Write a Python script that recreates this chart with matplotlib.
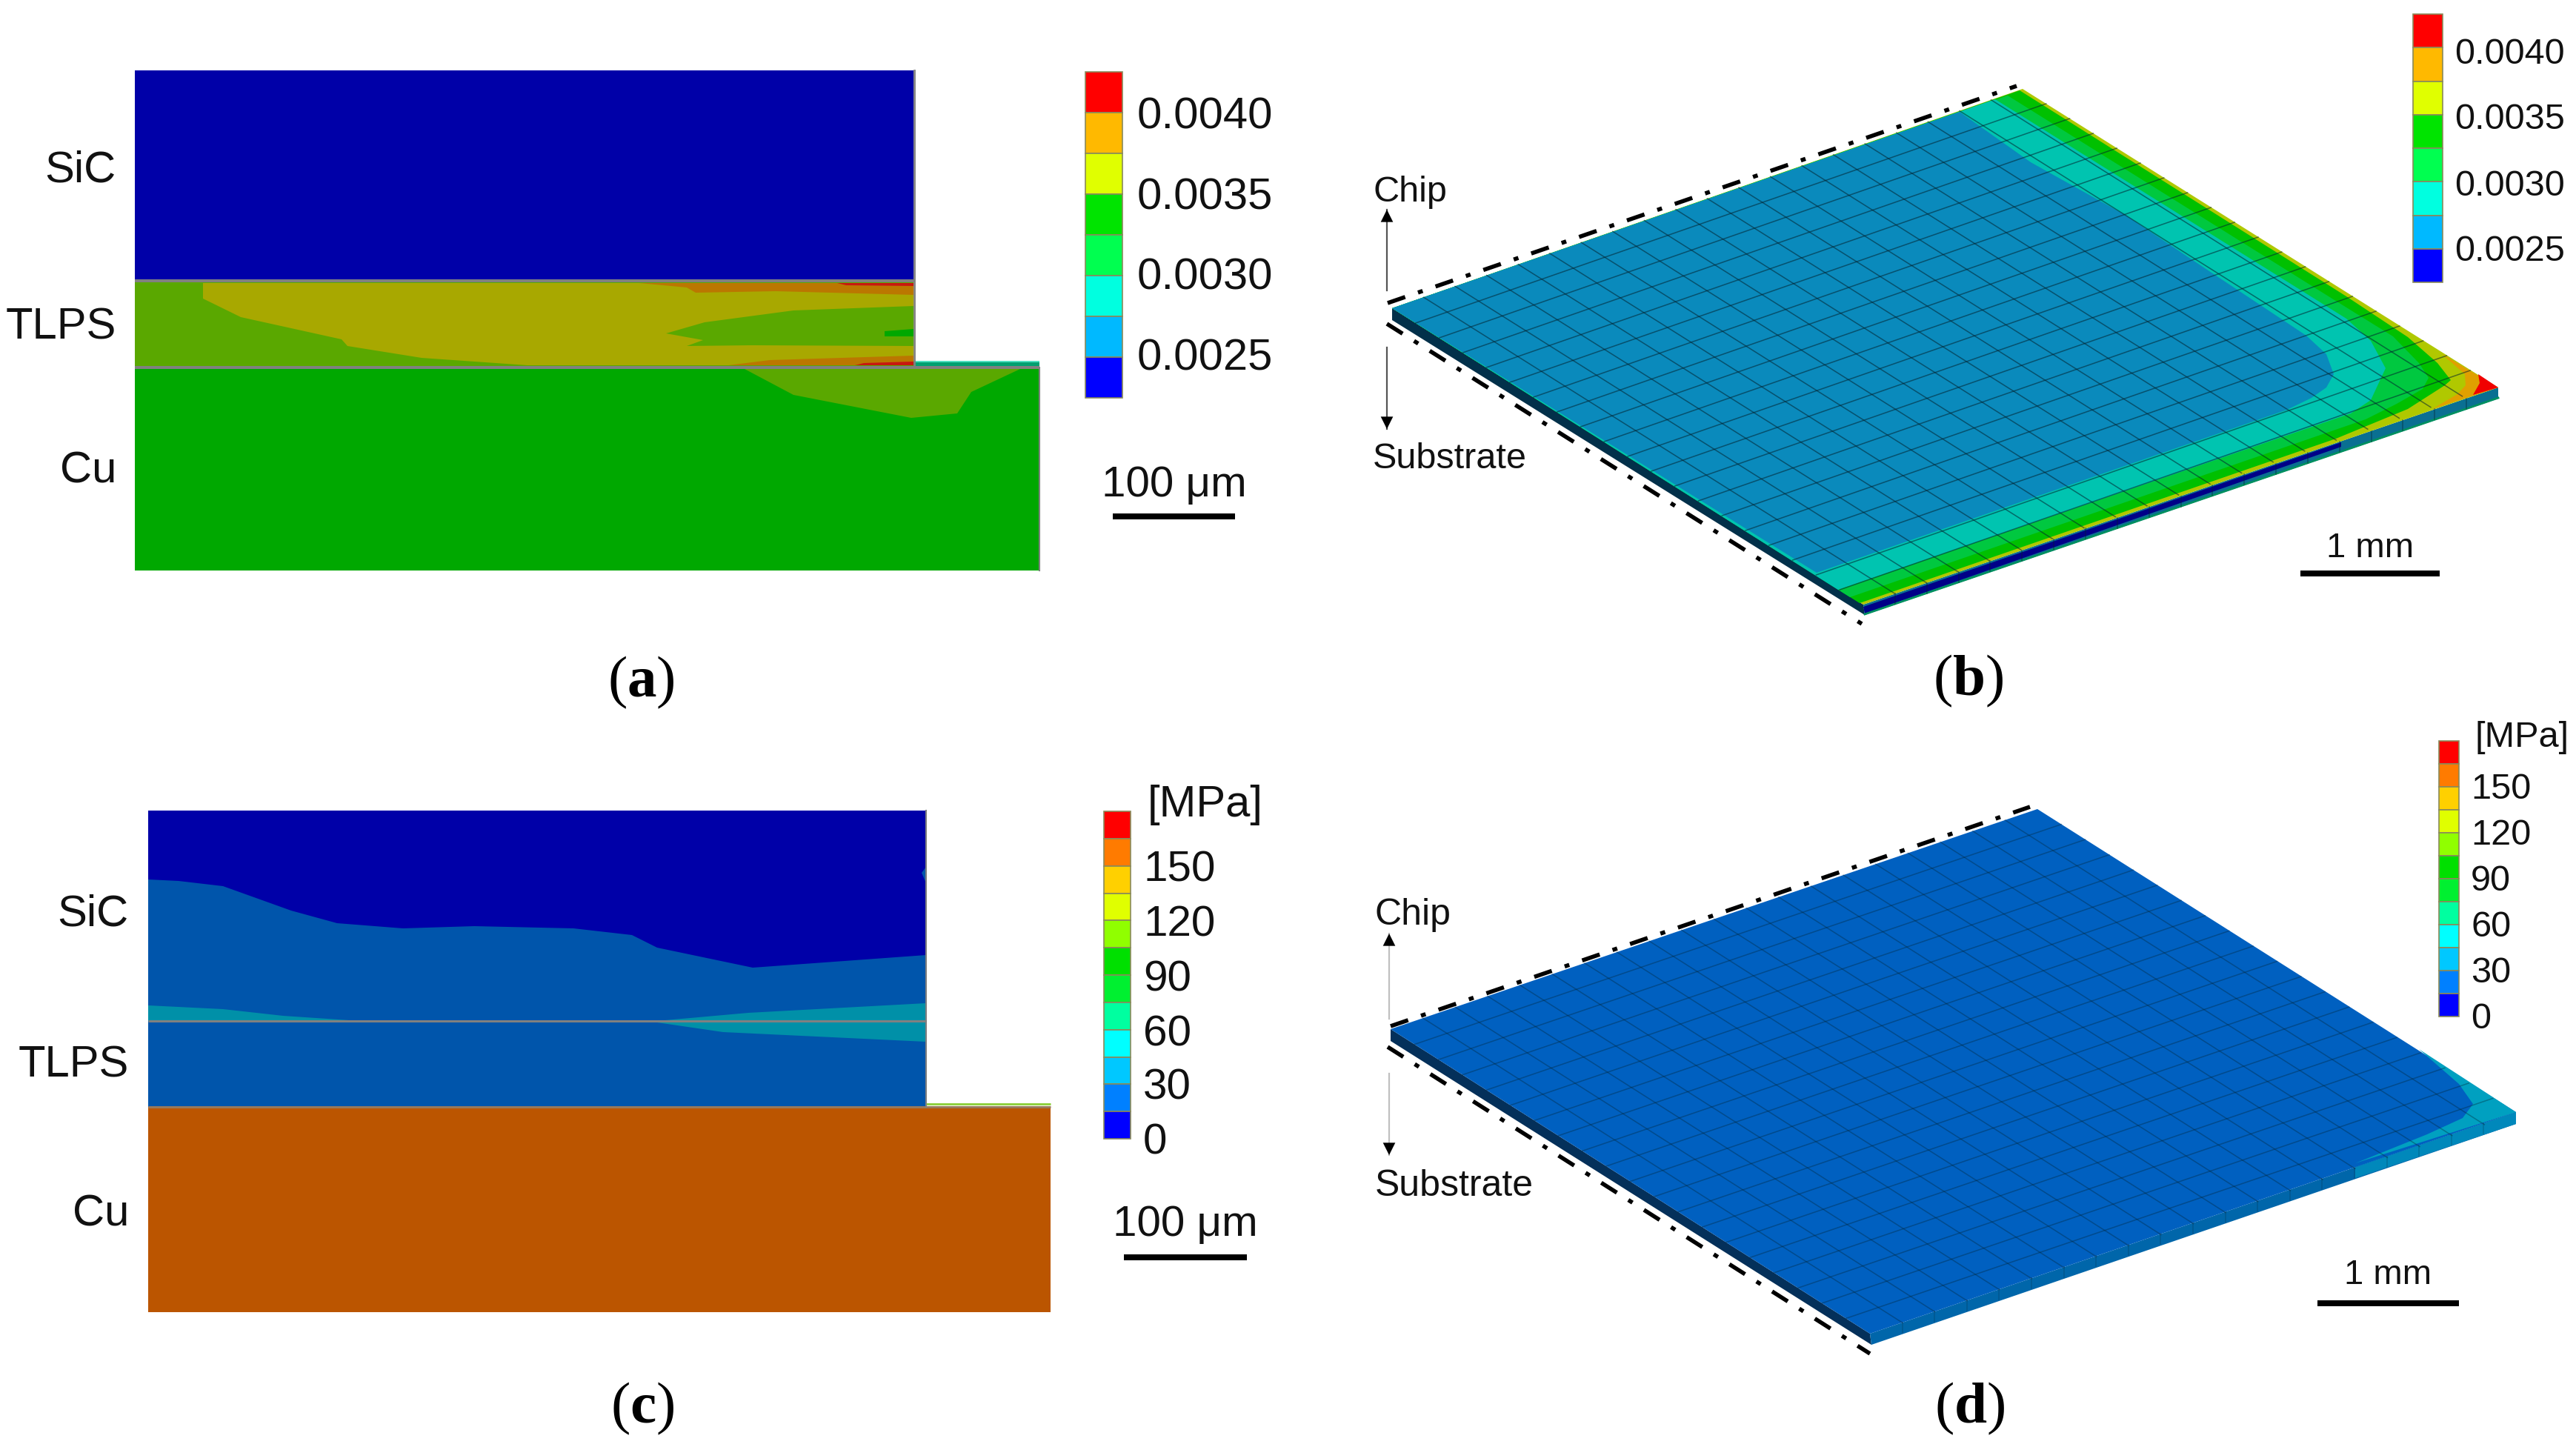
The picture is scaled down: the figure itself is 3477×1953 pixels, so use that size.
import numpy as np
import matplotlib
matplotlib.use("Agg")
import matplotlib.pyplot as plt

plt.rcParams['font.family'] = ['Liberation Sans', 'DejaVu Sans']
plt.rcParams['mathtext.fontset'] = 'custom'
plt.rcParams['mathtext.rm'] = 'Liberation Serif'
plt.rcParams['mathtext.bf'] = 'Liberation Serif:bold'

# colour legends
strain_colors = ['#ff0000', '#ffb900', '#e0ff00', '#00e400', '#00ff50', '#00ffe0', '#00b9ff', '#0000ff']
strain_labels = ['0.0040', '0.0035', '0.0030', '0.0025']
stress_colors = ['#ff0000', '#ff7b00', '#ffd000', '#e0ff00', '#90ff00', '#00e000',
                 '#00f030', '#00ffa0', '#00ffff', '#00c8ff', '#0080ff', '#0000ff']
stress_labels = ['150', '120', '90', '60', '30', '0']
layer_names = ['SiC', 'TLPS', 'Cu']

# panel a, contour outlines (image pixels)
a_yellow = [(274, 382), (274, 403), (325, 428), (461, 458), (469, 467), (569, 483), (712, 493), (1233, 493), (1233, 382)]
a_top_orange = [(863, 382), (927, 388), (939, 395), (1047, 393), (1233, 398), (1233, 382)]
a_top_red = [(1130, 382), (1142, 385), (1233, 386), (1233, 382)]
a_wedge = [(899, 450), (951, 435), (1071, 419), (1233, 413), (1233, 467), (1015, 466), (927, 467), (949, 459)]
a_spot = [(1194, 447), (1233, 444), (1233, 454), (1194, 454)]
a_low_orange = [(983, 493), (1039, 486), (1233, 480), (1233, 493)]
a_low_red = [(1154, 493), (1166, 490), (1233, 488), (1233, 493)]
a_cu_patch = [(1005, 498), (1071, 533), (1230, 564), (1292, 558), (1311, 529), (1377, 498)]

# panel c
c_sic_dark = [(200, 1187), (241, 1189), (301, 1196), (393, 1229), (455, 1246), (544, 1253), (640, 1250), (774, 1253),
              (853, 1262), (887, 1279), (1016, 1306), (1250, 1289), (1250, 1094), (200, 1094)]
c_sic_teal = [(200, 1357), (301, 1362), (382, 1371), (471, 1377), (898, 1377), (1010, 1367), (1250, 1354), (1250, 1378), (200, 1378)]
c_tlps_teal = [(887, 1380), (976, 1393), (1250, 1406), (1250, 1380)]
c_spot = [(1244, 1178), (1250, 1170), (1250, 1192)]

# panel b, plate corners and top surface bands
b_left, b_top, b_right, b_bottom = (1879, 416), (2730, 120), (3372, 523), (2515, 816)
b_green2 = [b_left, (2726, 122), (3167, 400), (3250, 455), (3290, 490), (3308, 513), (3300, 520), (3250, 552), (3153, 592), (2510, 814)]
b_green1 = [b_left, (2710, 129), (3143, 400), (3230, 454), (3265, 490), (3278, 510), (3270, 525), (3235, 545), (3193, 566), (2497, 806)]
b_teal = [b_left, (2693, 134), (3167, 430), (3200, 460), (3220, 497), (3200, 540), (3173, 558), (2481, 796)]
b_blue = [b_left, (2645, 151), (2741, 219), (2870, 291), (2976, 362), (3083, 433), (3113, 453), (3140, 478), (3150, 505),
          (3140, 523), (3120, 537), (3087, 553), (2452, 773)]
b_orange = [(3295, 477), (3327, 505), (3328, 520), (3317, 532), (3283, 552), b_right]
b_red = [(3345, 505), (3347, 517), (3338, 533), b_right]

# panel d
d_left, d_top, d_right, d_bottom = (1877, 1389), (2750, 1092), (3396, 1501), (2524, 1800)
d_teal = [(3265, 1416), (3319, 1463), (3338, 1490), (3324, 1509), (3276, 1531), (3179, 1570), d_right]


def poly(ax, pts, color, z=2):
    xs, ys = zip(*pts)
    ax.fill(xs, ys, color=color, lw=0, zorder=z)


def rect(ax, x0, y0, x1, y1, color, z=1):
    poly(ax, [(x0, y0), (x1, y0), (x1, y1), (x0, y1)], color, z)


def hline(ax, x0, x1, y, color='#808080', px=4, z=4):
    ax.plot([x0, x1], [y, y], color=color, lw=px * 0.72, solid_capstyle='butt', zorder=z)


def label(ax, x, y, t, size, ha='left'):
    # va=center sits a little high compared with the reference
    ax.text(x, y + 5, t, fontsize=size, ha=ha, va='center', color='#111111')


def colorbar(ax, x0, x1, y0, y1, colors):
    edges = np.linspace(y0, y1, len(colors) + 1)
    for i, c in enumerate(colors):
        ax.bar(x0, edges[i + 1] - edges[i], x1 - x0, bottom=edges[i], align='edge', color=c,
               edgecolor='#8a8a5a', linewidth=1.2, zorder=3)


def ticktext(ax, x, ys, labels, size):
    for y, t in zip(ys, labels):
        label(ax, x, y, t, size)


def scalebar(ax, x0, x1, y, thick, t, ly, size):
    hline(ax, x0, x1, y, color='black', px=thick)
    label(ax, (x0 + x1) / 2, ly, t, size, ha='center')


def mesh(ax, left, top, bottom, alpha, n=20):
    l, t, b = np.array(left), np.array(top), np.array(bottom)
    for k in range(1, n):
        f = k / n
        p0 = l + f * (b - l)
        p1 = p0 + (t - l)
        ax.plot([p0[0], p1[0]], [p0[1], p1[1]], color='#03222e', alpha=alpha, lw=1.1, zorder=5)
        p0 = l + f * (t - l)
        p1 = p0 + (b - l)
        ax.plot([p0[0], p1[0]], [p0[1], p1[1]], color='#03222e', alpha=alpha, lw=1.1, zorder=5)


def side_ticks(ax, bottom, right, depth, alpha, n=20):
    b, r = np.array(bottom), np.array(right)
    for k in range(1, n):
        p = b + k / n * (r - b)
        ax.plot([p[0], p[0]], [p[1], p[1] + depth], color='#03222e', alpha=alpha, lw=1.2, zorder=5)


def dashdot(ax, p0, p1):
    ax.plot([p0[0], p1[0]], [p0[1], p1[1]], color='black', lw=4.0,
            linestyle=(0, (4.5, 3.3, 1.2, 3.3)), zorder=6)


def updown(ax, x, y0, tip, color):
    ax.plot([x, x], [y0, tip], color=color, lw=1.6, zorder=3)
    d = 1 if tip > y0 else -1
    ax.annotate('', xy=(x, tip), xytext=(x, tip - d * 22),
                arrowprops=dict(arrowstyle='-|>', color='black', lw=0, mutation_scale=30,
                                shrinkA=0, shrinkB=0), zorder=6)


def panel_label(ax, x, y, letter):
    ax.text(x, y + 3, '(' + r'$\mathbf{' + letter + '}$' + ')', fontsize=57, family='Liberation Serif',
            ha='center', va='center', color='black')


fig = plt.figure(figsize=(34.77, 19.53), dpi=100)
ax = fig.add_axes([0, 0, 1, 1])
ax.set_xlim(0, 3477)
ax.set_ylim(1953, 0)
ax.axis('off')

# (a)
rect(ax, 182, 95, 1233, 378, '#0000a8')
rect(ax, 182, 378, 1233, 496, '#5aa800')
rect(ax, 182, 496, 1403, 770, '#00a800')
poly(ax, a_yellow, '#a8a800')
poly(ax, a_top_orange, '#bb7700', 3)
poly(ax, a_top_red, '#c81810', 3)
poly(ax, a_wedge, '#5aa800', 3)
poly(ax, a_spot, '#00a800', 3)
poly(ax, a_low_orange, '#bb7700', 3)
poly(ax, a_low_red, '#c81810', 3)
poly(ax, a_cu_patch, '#5aa800', 3)
rect(ax, 1233, 488, 1403, 494, '#00a070')
hline(ax, 1233, 1403, 488, color='#50e0c0', px=2)
hline(ax, 182, 1235, 379)
hline(ax, 182, 1403, 496)
ax.plot([1234, 1234], [95, 496], color='#808080', lw=2, zorder=4)
ax.plot([1403, 1403], [496, 770], color='#808080', lw=1.5, zorder=4)
for name, y in zip(layer_names, [225, 437, 631]):
    label(ax, 157, y, name, 43, ha='right')
colorbar(ax, 1465, 1515, 97, 537, strain_colors)
ticktext(ax, 1535, [153, 262, 370, 479], strain_labels, 43)
scalebar(ax, 1502, 1667, 697, 8, '100 μm', 650, 42)
panel_label(ax, 865, 918, 'a')

# (b)
poly(ax, [b_left, b_bottom, (2517, 830), (1879, 432)], '#02304a', 2)
poly(ax, [b_bottom, b_right, (3372, 538), (2517, 830)], '#0a6f92', 2)
poly(ax, [(2515, 819), (3160, 597), (3160, 603), (2517, 828)], '#000088', 3)
ax.plot([2517, 3372], [829, 537], color='#009060', lw=2.0, zorder=3)
poly(ax, [b_left, b_top, b_right, b_bottom], '#b0c800', 2)
poly(ax, b_orange, '#e0a000', 3)
poly(ax, b_red, '#f00000', 3)
poly(ax, b_green2, '#00c000', 3)
poly(ax, b_green1, '#00c840', 3)
poly(ax, b_teal, '#00c4b0', 3)
poly(ax, b_blue, '#0a8abc', 3)
mesh(ax, b_left, b_top, b_bottom, 0.55)
side_ticks(ax, b_bottom, b_right, 14, 0.4)
dashdot(ax, (1873, 409), (2722, 116))
dashdot(ax, (1872, 437), (2513, 842))
updown(ax, 1872, 392, 283, '#555555')
updown(ax, 1872, 469, 579, '#555555')
label(ax, 1853, 255, 'Chip', 35)
label(ax, 1853, 614, 'Substrate', 35)
colorbar(ax, 3257, 3297, 19, 381, strain_colors)
ticktext(ax, 3313, [69, 157, 246, 335], strain_labels, 35)
scalebar(ax, 3105, 3293, 774, 8, '1 mm', 735, 34)
panel_label(ax, 2657, 916, 'b')

# (c)
rect(ax, 200, 1094, 1250, 1494, '#0055ab')
rect(ax, 200, 1494, 1418, 1771, '#bb5500')
poly(ax, c_sic_dark, '#0000a8')
poly(ax, c_sic_teal, '#0090a8')
poly(ax, c_tlps_teal, '#0090a8')
poly(ax, c_spot, '#0055ab', 3)
hline(ax, 1250, 1418, 1490, color='#90d040', px=3)
hline(ax, 200, 1250, 1378, px=3)
hline(ax, 200, 1418, 1494, color='#98785a', px=3)
ax.plot([1250, 1250], [1094, 1494], color='#808080', lw=1.5, zorder=4)
for name, y in zip(layer_names, [1229, 1433, 1634]):
    label(ax, 174, y, name, 43, ha='right')
colorbar(ax, 1490, 1526, 1095, 1537, stress_colors)
ticktext(ax, 1543, [1170, 1244, 1318, 1392, 1463, 1537], stress_labels, 42)
label(ax, 1549, 1081, '[MPa]', 43)
scalebar(ax, 1517, 1683, 1697, 8, '100 μm', 1648, 42)
panel_label(ax, 867, 1898, 'c')

# (d)
poly(ax, [d_left, d_bottom, (2526, 1815), (1877, 1405)], '#04305a', 2)
poly(ax, [d_bottom, d_right, (3396, 1517), (2526, 1815)], '#0066aa', 2)
poly(ax, [(3179, 1575), d_right, (3396, 1517), (3179, 1590)], '#0088bb', 3)
poly(ax, [d_left, d_top, d_right, d_bottom], '#0060c0', 3)
poly(ax, d_teal, '#00a0c0', 4)
mesh(ax, d_left, d_top, d_bottom, 0.35)
side_ticks(ax, d_bottom, d_right, 14, 0.2)
dashdot(ax, (1877, 1385), (2740, 1089))
dashdot(ax, (1873, 1413), (2524, 1827))
updown(ax, 1875, 1375, 1260, '#c0c0c0')
updown(ax, 1875, 1449, 1559, '#c0c0c0')
label(ax, 1856, 1230, 'Chip', 36)
label(ax, 1856, 1596, 'Substrate', 36)
colorbar(ax, 3292, 3319, 1000, 1372, stress_colors)
ticktext(ax, 3335, [1060, 1123, 1185, 1247, 1308, 1370], stress_labels, 35)
label(ax, 3340, 990, '[MPa]', 35)
scalebar(ax, 3128, 3319, 1759, 8, '1 mm', 1716, 34)
panel_label(ax, 2659, 1898, 'd')

fig.savefig('out.png', dpi=100, facecolor='white')
